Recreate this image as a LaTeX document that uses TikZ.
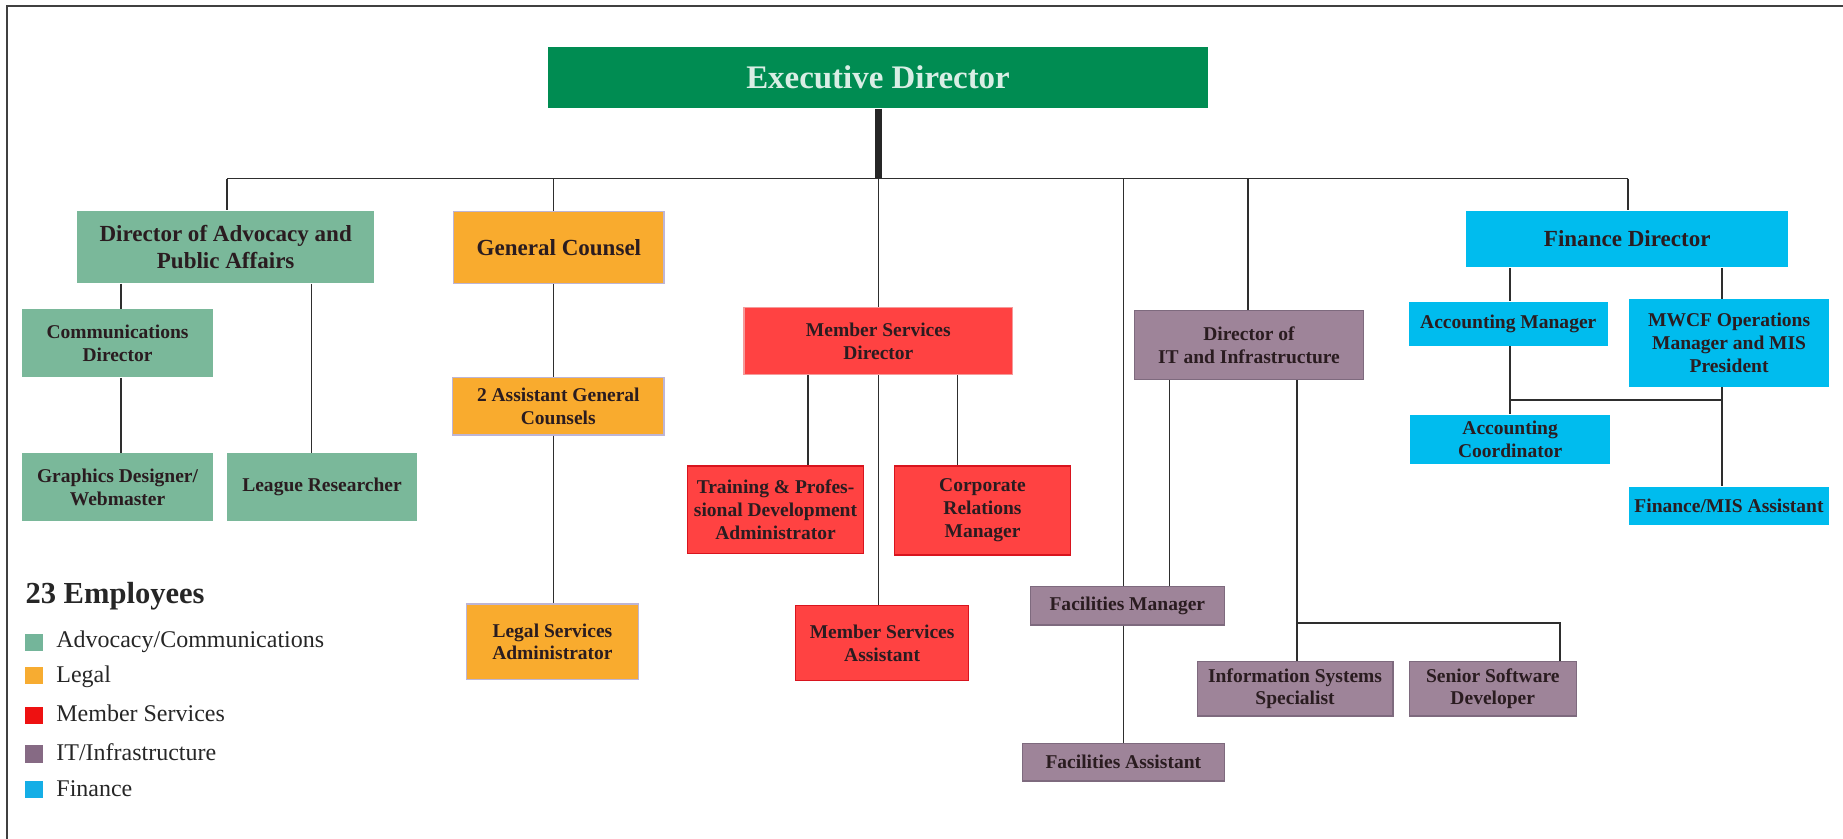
\documentclass[tikz,border=0pt]{standalone}
\usepackage{fontspec}
\setmainfont{Liberation Serif}
\definecolor{cEd}{HTML}{008C52}
\definecolor{cEdT}{HTML}{D9EEE5}
\definecolor{cAdv}{HTML}{7AB89A}
\definecolor{cLeg}{HTML}{F9AB2E}
\definecolor{cLegB}{HTML}{BDB5D5}
\definecolor{cMem}{HTML}{FF4242}
\definecolor{cMemB}{HTML}{D8141E}
\definecolor{cMemL}{HTML}{F59A9A}
\definecolor{cIT}{HTML}{9E8499}
\definecolor{cITB}{HTML}{7E6A7E}
\definecolor{cFin}{HTML}{00BCEE}
\definecolor{cTxt}{HTML}{2A1C20}
\definecolor{cLine}{HTML}{2E2E2E}
\definecolor{sqA}{HTML}{74B59A}
\definecolor{sqL}{HTML}{F7AC31}
\definecolor{sqM}{HTML}{EE1111}
\definecolor{sqI}{HTML}{866A84}
\definecolor{sqF}{HTML}{15AEE6}
\begin{document}
\begin{tikzpicture}[x=0.5pt,y=-0.5pt,
  bx/.style={inner sep=0pt, align=center, text=cTxt, font=\bfseries\fontsize{8.3}{9.7}\selectfont},
  bigtxt/.style={font=\bfseries\fontsize{9.8}{11.8}\selectfont},
  grpA/.style={bx, fill=cAdv},
  grpL/.style={bx, fill=cLeg, draw=cLegB, line width=0.6pt},
  grpM/.style={bx, fill=cMem, draw=cMemB, line width=0.6pt},
  grpI/.style={bx, fill=cIT, draw=cITB, line width=0.6pt},
  grpF/.style={bx, fill=cFin},
  conn/.style={draw=cLine, line width=0.7pt},
  trunk/.style={draw=black!85, line width=3pt},
  legsq/.style={inner sep=0pt, minimum width=7.8pt, minimum height=7.3pt},
  legtxt/.style={anchor=base west, inner sep=0pt, text=black!85, font=\fontsize{10.2}{12}\selectfont}
]
\useasboundingbox (0,0) rectangle (1568,713.8);
% frame
\draw[draw=black!75, line width=0.85pt] (5.9,713.8) -- (5.9,4.8) -- (1568,4.8);

% executive
\node[inner sep=0pt, fill=cEd, text=cEdT, font=\bfseries\fontsize{14}{16}\selectfont,
      minimum width=281pt, minimum height=26pt] (ed) at (747,66) {Executive Director};

% advocacy
\node[grpA, bigtxt, minimum width=126.5pt, minimum height=30.8pt] (adv) at (192,210.2) {Director of Advocacy and\\Public Affairs};
\node[grpA, minimum width=81pt, minimum height=29pt] (comm) at (100,292) {Communications\\Director};
\node[grpA, minimum width=81pt, minimum height=28.8pt] (gfx) at (100,414.5) {Graphics Designer/\\Webmaster};
\node[grpA, minimum width=81pt, minimum height=28.8pt] (league) at (274,414.5) {League Researcher};

% legal
\node[grpL, bigtxt, minimum width=89.5pt, minimum height=30.5pt] (gc) at (475.5,210.5) {General Counsel};
\node[grpL, minimum width=90pt, minimum height=24.5pt] (agc) at (475,345.5) {2 Assistant General\\Counsels};
\node[grpL, minimum width=73pt, minimum height=32pt] (lsa) at (470,546) {Legal Services\\Administrator};

% member services
\node[grpM, draw=cMemL, minimum width=114.4pt, minimum height=28.6pt] (msd) at (747.25,290.2) {Member Services\\Director};
\node[grpM, minimum width=75pt, minimum height=37.2pt] (train) at (659.8,433.6) {Training \& Profes-\\sional Development\\Administrator};
\node[grpM, minimum width=74.9pt, minimum height=37.9pt] (corp) at (835.9,434.3) {Corporate\\Relations\\Manager};
\node[grpM, minimum width=73.5pt, minimum height=31.9pt] (msa) at (750.5,547.2) {Member Services\\Assistant};

% IT
\node[grpI, minimum width=97.4pt, minimum height=29.4pt] (dit) at (1062.6,293.4) {Director of\\IT and Infrastructure};
\node[grpI, minimum width=82.5pt, minimum height=16.3pt] (fm) at (959.1,515.4) {Facilities Manager};
\node[grpI, minimum width=85.9pt, minimum height=16pt] (fa) at (955.7,648.5) {Facilities Assistant};
\node[grpI, minimum width=83.2pt, minimum height=23pt] (iss) at (1101.8,586) {Information Systems\\Specialist};
\node[grpI, minimum width=71pt, minimum height=23pt] (ssd) at (1270,586) {Senior Software\\Developer};

% finance
\node[grpF, bigtxt, minimum width=137.1pt, minimum height=24.1pt] (fd) at (1384.4,203.3) {Finance Director};
\node[grpF, minimum width=84.8pt, minimum height=18.7pt] (am) at (1283.2,275.4) {Accounting Manager};
\node[grpF, minimum width=85.3pt, minimum height=37.2pt] (mwcf) at (1471.1,291.9) {MWCF Operations\\Manager and MIS\\President};
\node[grpF, minimum width=85.2pt, minimum height=21pt] (ac) at (1284.8,374) {Accounting\\Coordinator};
\node[grpF, minimum width=85pt, minimum height=16.5pt] (fma) at (1471,430.5) {Finance/MIS Assistant};

% guide coordinates
\coordinate (b1) at (193,152);
\coordinate (b2) at (471,152);
\coordinate (b3) at (747.5,152);
\coordinate (b4) at (955.7,152);
\coordinate (b5) at (1062,152);
\coordinate (b6) at (1385,152);
\coordinate (xa) at (103,0);
\coordinate (xl) at (265,0);
\coordinate (xt) at (687.7,0);
\coordinate (xc) at (814.6,0);
\coordinate (xf) at (995,0);
\coordinate (xi) at (1103.5,0);
\coordinate (xam) at (1284.6,0);
\coordinate (xmw) at (1464.8,0);
\coordinate (j1) at (1103.5,530);
\coordinate (j2) at (1327,530);
\coordinate (h1) at (1284.6,340.5);
\coordinate (h2) at (1464.8,340.5);

% connectors
\draw[trunk] (ed.south -| b3) -- (b3);
\draw[conn] (b1) -- (b6);
\draw[conn] (b1) -- (adv.north -| b1);
\draw[conn] (b2) -- (gc.north -| b2);
\draw[conn] (b3) -- (msd.north -| b3);
\draw[conn] (b4) -- (fm.north -| b4);
\draw[conn] (b5) -- (dit.north -| b5);
\draw[conn] (b6) -- (fd.north -| b6);

\draw[conn] (adv.south -| xa) -- (comm.north -| xa);
\draw[conn] (comm.south -| xa) -- (gfx.north -| xa);
\draw[conn] (adv.south -| xl) -- (league.north -| xl);

\draw[conn] (gc.south -| b2) -- (agc.north -| b2);
\draw[conn] (agc.south -| b2) -- (lsa.north -| b2);

\draw[conn] (msd.south -| xt) -- (train.north -| xt);
\draw[conn] (msd.south -| xc) -- (corp.north -| xc);
\draw[conn] (msd.south -| b3) -- (msa.north -| b3);

\draw[conn] (dit.south -| xf) -- (fm.north -| xf);
\draw[conn] (fm.south -| b4) -- (fa.north -| b4);
\draw[conn] (dit.south -| xi) -- (iss.north -| xi);
\draw[conn] (j1) -- (j2) -- (ssd.north -| j2);

\draw[conn] (fd.south -| xam) -- (am.north -| xam);
\draw[conn] (am.south -| xam) -- (ac.north -| xam);
\draw[conn] (fd.south -| xmw) -- (mwcf.north -| xmw);
\draw[conn] (mwcf.south -| xmw) -- (fma.north -| xmw);
\draw[conn] (h1) -- (h2);

% legend
\node[anchor=base west, inner sep=0pt, text=black!85, font=\bfseries\fontsize{13}{15}\selectfont] (legtitle) at (21.3,513.4) {23 Employees};
\node[legsq, fill=sqA] (s1) at (29.1,546.4) {};
\node[legsq, fill=sqL] (s2) at (29.1,574.7) {};
\node[legsq, fill=sqM] (s3) at (29.1,608.9) {};
\node[legsq, fill=sqI] (s4) at (29.1,641.5) {};
\node[legsq, fill=sqF] (s5) at (29.1,672) {};
\node[legtxt] (t1) at (47.6,551) {Advocacy/Communications};
\node[legtxt] (t2) at (47.6,580.7) {Legal};
\node[legtxt] (t3) at (47.6,614.2) {Member Services};
\node[legtxt] (t4) at (47.6,647.4) {IT/Infrastructure};
\node[legtxt] (t5) at (47.6,677.5) {Finance};
\end{tikzpicture}
\end{document}
